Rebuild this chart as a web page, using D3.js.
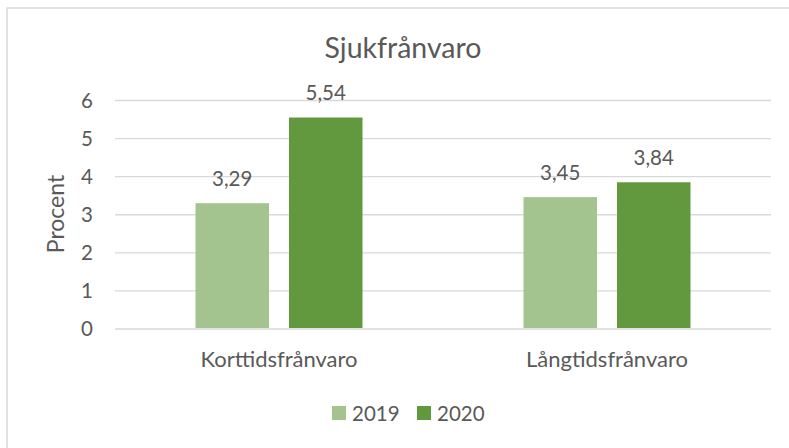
<!DOCTYPE html>
<html>
<head>
<meta charset="utf-8">
<script src="https://cdn.jsdelivr.net/npm/d3@7"></script>
<style>
  html, body { margin: 0; padding: 0; background: #ffffff; }
  svg { display: block; }
  text { font-family: Lato, "Open Sans", sans-serif; fill: #595959; }
</style>
</head>
<body>
<svg id="chart" width="789" height="448"></svg>
<script>
// ---- data ----
const categories = ["Korttidsfrånvaro", "Långtidsfrånvaro"];
const seriesNames = ["2019", "2020"];
const values2019 = [3.29, 3.45];
const values2020 = [5.54, 3.84];
const yTicks = [0, 1, 2, 3, 4, 5, 6];
const titleText = "Sjukfrånvaro";
const yAxisTitle = "Procent";
const seriesColors = ["#A3C48F", "#62993E"];

// ---- layout ----
const W = 789, H = 448;
const plotLeft = 115, plotRight = 771, plotTop = 100, plotBottom = 328.5;

const svg = d3.select("#chart");
svg.append("rect").attr("x", 0).attr("y", 0).attr("width", W).attr("height", H).attr("fill", "#fff");
svg.append("rect").attr("x", 7).attr("y", 8).attr("width", 820).attr("height", 520)
  .attr("fill", "none").attr("stroke", "#d9d9d9").attr("stroke-width", 1.5);

const locale = d3.formatLocale({ decimal: ",", thousands: " ", grouping: [3], currency: ["", " kr"] });
const fmt = locale.format(".2f");

const seriesValues = [values2019, values2020];
const rows = categories.map((c, i) => ({
  cat: c,
  vals: seriesNames.map((s, j) => ({ s, j, v: seriesValues[j][i] }))
}));

const y = d3.scaleLinear().domain([0, 6]).range([plotBottom, plotTop]);
const x0 = d3.scaleBand().domain(categories).range([plotLeft, plotRight]).padding(0);
const x1 = d3.scaleBand().domain(seriesNames).range([0, x0.bandwidth()])
  .paddingInner(0.214).paddingOuter(0.861);
const color = d3.scaleOrdinal().domain(seriesNames).range(seriesColors);

// gridlines + tick labels
const yAxis = d3.axisLeft(y).tickValues(yTicks).tickSize(-(plotRight - plotLeft)).tickPadding(22)
  .tickFormat(d3.format("d"));
const gy = svg.append("g").attr("transform", `translate(${plotLeft},0)`).call(yAxis);
gy.select(".domain").remove();
gy.selectAll(".tick line").attr("stroke", "#d9d9d9").attr("stroke-width", 1.4);
gy.selectAll(".tick text").attr("font-size", 20.5).attr("fill", "#595959")
  .style("font-family", "Lato, 'Open Sans', sans-serif").attr("dy", "0.36em");

// bars
const groups = svg.append("g").selectAll("g").data(rows).join("g")
  .attr("transform", d => `translate(${x0(d.cat)},0)`);
groups.selectAll("rect").data(d => d.vals).join("rect")
  .attr("x", d => x1(d.s))
  .attr("y", d => y(d.v))
  .attr("width", x1.bandwidth())
  .attr("height", d => y(0) - y(d.v) - 0.5)
  .attr("fill", d => color(d.s));
groups.selectAll("text.lbl").data(d => d.vals).join("text")
  .attr("class", "lbl")
  .attr("x", d => x1(d.s) + x1.bandwidth() / 2)
  .attr("y", d => y(d.v) - 17.5)
  .attr("text-anchor", "middle")
  .attr("font-size", 20.5)
  .text(d => fmt(d.v));

// category labels
const xAxis = d3.axisBottom(x0).tickSize(0).tickPadding(0);
const gx = svg.append("g").attr("transform", `translate(0,${plotBottom})`).call(xAxis);
gx.select(".domain").remove();
gx.selectAll(".tick text").attr("font-size", 22).attr("fill", "#595959")
  .style("font-family", "Lato, 'Open Sans', sans-serif")
  .attr("y", 367 - plotBottom).attr("dy", 0);

// title
svg.append("text").attr("x", 403).attr("y", 57.5).attr("text-anchor", "middle")
  .attr("font-size", 28.5).text(titleText);

// y axis title
svg.append("text").attr("transform", `translate(64,214) rotate(-90)`)
  .attr("text-anchor", "middle").attr("font-size", 23).text(yAxisTitle);

// legend
const legendItems = [
  { name: seriesNames[0], sx: 332, tx: 352 },
  { name: seriesNames[1], sx: 417, tx: 437 }
];
const lg = svg.append("g").selectAll("g").data(legendItems).join("g");
lg.append("rect").attr("x", d => d.sx).attr("y", 406).attr("width", 14).attr("height", 14)
  .attr("fill", d => color(d.name));
lg.append("text").attr("x", d => d.tx).attr("y", 421).attr("font-size", 20.5).text(d => d.name);
</script>
</body>
</html>
